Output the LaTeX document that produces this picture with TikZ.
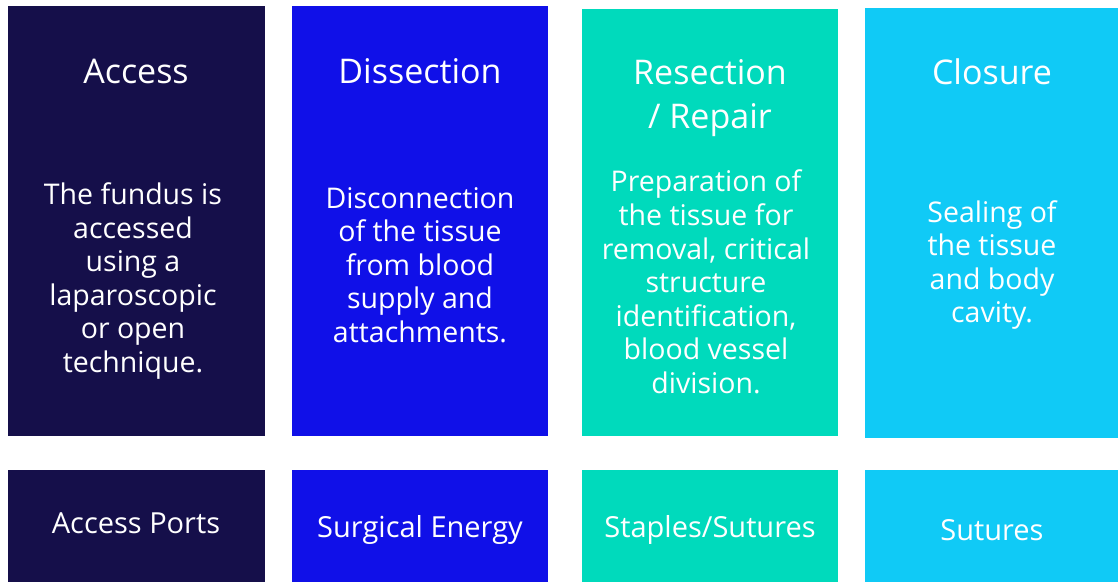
\documentclass[tikz,border=0pt]{standalone}
\usepackage{fontspec}
\setmainfont{Open Sans}
\usepackage{xcolor}
\usepackage{tikz}
\usetikzlibrary{positioning}

\definecolor{navy}{HTML}{150F4A}
\definecolor{royal}{HTML}{1010E8}
\definecolor{teal}{HTML}{00DABC}
\definecolor{sky}{HTML}{10CAF6}

\begin{document}
\begin{tikzpicture}[
  x=1pt, y=-1pt,
  panel/.style={anchor=north west, inner sep=0pt, outer sep=0pt},
  title/.style={text=white, align=center, font=\fontsize{34}{44}\selectfont},
  body/.style={text=white, align=center, font=\fontsize{28.5}{33.6}\selectfont},
  tool/.style={text=white, align=center, font=\fontsize{29}{32}\selectfont}
]
  \useasboundingbox (0,0) rectangle (1118,582);

  % phase panels
  \node[panel, fill=navy, minimum width=257pt, minimum height=430pt] (access) at (8,6) {};
  \node[panel, fill=royal, minimum width=256pt, minimum height=430pt] (dissect) at (292,6) {};
  \node[panel, fill=teal, minimum width=256pt, minimum height=427pt] (resect) at (582,9) {};
  \node[panel, fill=sky, minimum width=253pt, minimum height=430pt] (closure) at (865,8) {};

  % tool panels
  \node[panel, fill=navy, minimum width=257pt, minimum height=112pt] (ports) at (8,470) {};
  \node[panel, fill=royal, minimum width=256pt, minimum height=112pt] (energy) at (292,470) {};
  \node[panel, fill=teal, minimum width=256pt, minimum height=112pt] (staples) at (582,470) {};
  \node[panel, fill=sky, minimum width=253pt, minimum height=112pt] (sutures) at (865,470) {};

  % headings
  \node[title] (accessT) at (136,71) {Access};
  \node[title] (dissectT) at (420,71) {Dissection};
  \node[title] (resectT) at (710,98) {Resection\\/ Repair};
  \node[title] (closureT) at (992,72) {Closure};

  % descriptions
  \node[body] (accessD) at (133,281) {The fundus is\\accessed\\using a\\laparoscopic\\or open\\technique.};
  \node[body] (dissectD) at (420,265) {Disconnection\\of the tissue\\from blood\\supply and\\attachments.};
  \node[body] (resectD) at (706,282) {Preparation of\\the tissue for\\removal, critical\\structure\\identification,\\blood vessel\\division.};
  \node[body] (closureD) at (992,265) {Sealing of\\the tissue\\and body\\cavity.};

  % tools
  \node[tool] (portsT) at (136,523) {Access Ports};
  \node[tool] (energyT) at (420,530) {Surgical Energy};
  \node[tool] (staplesT) at (710,530) {Staples/Sutures};
  \node[tool] (suturesT) at (992,530) {Sutures};
\end{tikzpicture}
\end{document}
